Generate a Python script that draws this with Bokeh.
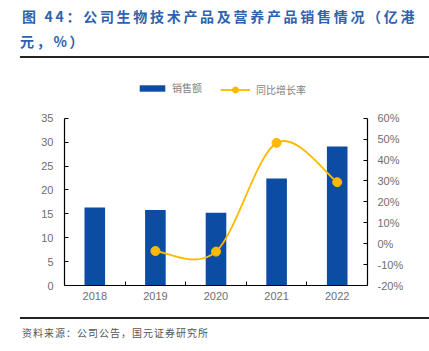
from bokeh.plotting import figure
from bokeh.models import (Range1d, LinearAxis, FixedTicker, PrintfTickFormatter,
                          Legend, LegendItem, Div)
from bokeh.layouts import column
from bokeh.embed import file_html
from bokeh.resources import INLINE

# ---- data ----
years = ["2018", "2019", "2020", "2021", "2022"]
sales = [16.3, 15.8, 15.2, 22.4, 29.1]          # 亿港元
growth_years = ["2019", "2020", "2021", "2022"]
growth = [-3.5, -3.8, 48.2, 29.4]                # %
left_ticks = [0, 5, 10, 15, 20, 25, 30, 35]
right_ticks = [-20, -10, 0, 10, 20, 30, 40, 50, 60]

title_text = "图 44：公司生物技术产品及营养产品销售情况（亿港<br>元，%）"
source_text = "资料来源：公司公告，国元证券研究所"

BAR = "#0D4CA3"
GOLD = "#FFB900"
TICK = "#6E6E6E"

# layout: frame is taller than the axes so the legend fits inside it
FRAME_H = 219.0
AXIS_H = 167.3
lo_l, hi_l = left_ticks[0], left_ticks[-1]
lo_r, hi_r = right_ticks[0], right_ticks[-1]
top_l = lo_l + (hi_l - lo_l) * FRAME_H / AXIS_H
top_r = lo_r + (hi_r - lo_r) * FRAME_H / AXIS_H

xi = list(range(len(years)))
gx = [years.index(y) for y in growth_years]

p = figure(width=429, height=261, output_backend="svg", toolbar_location=None,
           x_range=Range1d(-0.5, len(years) - 0.5),
           y_range=Range1d(lo_l, top_l),
           min_border_left=64, min_border_right=62, min_border_top=10, min_border_bottom=32,
           x_axis_type=None, y_axis_type=None)
p.extra_y_ranges = {"pct": Range1d(lo_r, top_r)}
p.outline_line_color = None
p.xgrid.visible = False
p.ygrid.visible = False
p.background_fill_color = None
p.border_fill_color = None

# axes
xaxis = LinearAxis(ticker=FixedTicker(ticks=xi, minor_ticks=[i + 0.5 for i in xi[:-1]]),
                   major_label_overrides={i: y for i, y in zip(xi, years)})
xaxis.major_tick_line_color = None
xaxis.major_tick_in = 0
xaxis.major_tick_out = 0
xaxis.minor_tick_in = 4
xaxis.minor_tick_out = 0
xaxis.minor_tick_line_color = "black"
xaxis.major_label_standoff = 6
p.add_layout(xaxis, "below")

laxis = LinearAxis(ticker=FixedTicker(ticks=left_ticks), bounds=(lo_l, hi_l))
laxis.major_tick_in = 4
laxis.major_tick_out = 0
laxis.minor_tick_line_color = None
laxis.major_label_standoff = 11
p.add_layout(laxis, "left")

raxis = LinearAxis(y_range_name="pct", ticker=FixedTicker(ticks=right_ticks),
                   formatter=PrintfTickFormatter(format="%d%%"), bounds=(lo_r, hi_r))
raxis.major_tick_in = 4
raxis.major_tick_out = 0
raxis.minor_tick_line_color = None
raxis.major_label_standoff = 10
p.add_layout(raxis, "right")

for ax in (xaxis, laxis, raxis):
    ax.axis_line_color = "black"
    ax.axis_line_width = 1.2
    ax.major_label_text_font = "Liberation Sans"
    ax.major_label_text_font_size = "11px"
    ax.major_label_text_color = TICK
laxis.major_tick_line_color = "black"
raxis.major_tick_line_color = "black"

# bars
bars = p.vbar(x=xi, top=sales, width=0.34, fill_color=BAR, line_color=None)

# smooth (Catmull-Rom -> Bezier) line through growth points
n = len(gx)
x0, y0, x1, y1, cx0, cy0, cx1, cy1 = [], [], [], [], [], [], [], []
for i in range(n - 1):
    pa = (gx[i - 1], growth[i - 1]) if i > 0 else (gx[i], growth[i])
    pb = (gx[i], growth[i])
    pc = (gx[i + 1], growth[i + 1])
    pd = (gx[i + 2], growth[i + 2]) if i + 2 < n else pc
    x0.append(pb[0]); y0.append(pb[1]); x1.append(pc[0]); y1.append(pc[1])
    cx0.append(pb[0] + (pc[0] - pa[0]) / 6); cy0.append(pb[1] + (pc[1] - pa[1]) / 6)
    cx1.append(pc[0] - (pd[0] - pb[0]) / 6); cy1.append(pc[1] - (pd[1] - pb[1]) / 6)
curve = p.bezier(x0=x0, y0=y0, x1=x1, y1=y1, cx0=cx0, cy0=cy0, cx1=cx1, cy1=cy1,
                 line_color=GOLD, line_width=1.8, y_range_name="pct")
dots = p.scatter(x=gx, y=growth, size=9, fill_color=GOLD, line_color=GOLD,
                 y_range_name="pct")

# legends
def mk_legend(items, loc, gw, gh, standoff):
    return Legend(items=items, location=loc, orientation="horizontal",
                  glyph_width=gw, glyph_height=gh, label_height=12,
                  label_standoff=standoff, padding=0, margin=0, spacing=0,
                  border_line_color=None, background_fill_alpha=0,
                  label_text_font="Noto Sans CJK SC", label_text_font_size="10px",
                  label_text_color="#7F7F7F")

lg1 = mk_legend([LegendItem(label="销售额", renderers=[bars])], (72, 190), 32, 8, 4)
lg2 = mk_legend([LegendItem(label="同比增长率", renderers=[curve, dots])], (156, 188), 30, 15, 6)
p.add_layout(lg1)
p.add_layout(lg2)

title_div = Div(text=(
    '<div style="margin-left:20px;width:409px;height:52px;padding-top:4px;'
    'border-bottom:2px solid #222;box-sizing:content-box;'
    'font-family:\'Noto Sans CJK SC\';font-weight:bold;font-size:14px;'
    'line-height:25px;letter-spacing:2.7px;color:#2F62AE;white-space:nowrap;">'
    '<span style="padding-left:2px;">' + title_text + '</span></div>'),
    width=429, height=56, margin=0)

foot_div = Div(text=(
    '<div style="margin-left:20px;width:409px;border-top:2px solid #222;'
    'padding-top:7px;padding-left:2px;font-family:\'Noto Sans CJK SC\';'
    'font-size:10px;line-height:14px;letter-spacing:1px;color:#555555;white-space:nowrap;">'
    + source_text + '</div>'),
    width=429, height=34, margin=0)

layout = column(title_div, p, foot_div, spacing=0, margin=0)
open("out.html", "w").write(file_html(layout, INLINE))
